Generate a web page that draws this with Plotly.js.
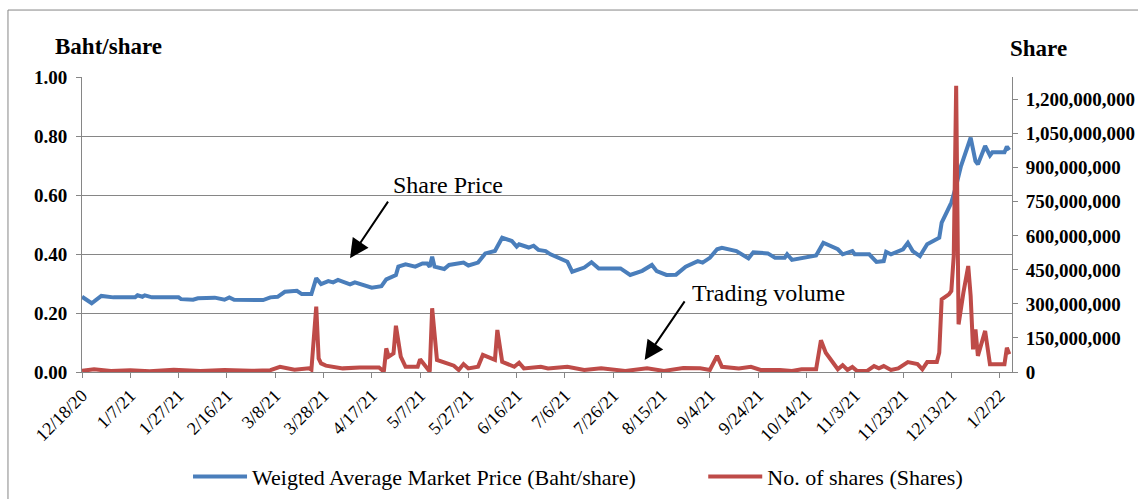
<!DOCTYPE html>
<html>
<head>
<meta charset="utf-8">
<script src="https://cdn.plot.ly/plotly-3.0.1.min.js"></script>
<style>
  body { margin: 0; background: #fff; }
  #chart { width: 1138px; height: 499px; }
</style>
</head>
<body>
<div id="chart"></div>
<script>
// weighted average market price (Baht/share)
var priceDates = [
  '2020-12-18','2020-12-22','2020-12-26','2020-12-31',
  '2021-01-09','2021-01-10','2021-01-12','2021-01-13','2021-01-16','2021-01-27','2021-01-28',
  '2021-02-02','2021-02-04','2021-02-11','2021-02-15','2021-02-17','2021-02-19',
  '2021-03-03','2021-03-06','2021-03-09','2021-03-12','2021-03-17','2021-03-19','2021-03-23','2021-03-25','2021-03-27','2021-03-30',
  '2021-04-01','2021-04-03','2021-04-05','2021-04-08','2021-04-10','2021-04-13','2021-04-17','2021-04-21','2021-04-23','2021-04-27','2021-04-28',
  '2021-05-01','2021-05-05','2021-05-08','2021-05-10','2021-05-11','2021-05-12','2021-05-13','2021-05-17','2021-05-19','2021-05-25','2021-05-27','2021-05-31',
  '2021-06-03','2021-06-07','2021-06-10','2021-06-14','2021-06-16','2021-06-17','2021-06-21','2021-06-23','2021-06-25','2021-06-28','2021-06-30',
  '2021-07-01','2021-07-07','2021-07-09','2021-07-14','2021-07-17','2021-07-20','2021-07-29',
  '2021-08-02','2021-08-07','2021-08-11','2021-08-13','2021-08-17','2021-08-21','2021-08-25','2021-08-30',
  '2021-09-01','2021-09-04','2021-09-07','2021-09-09','2021-09-15','2021-09-20','2021-09-22','2021-09-28',
  '2021-10-01','2021-10-05','2021-10-06','2021-10-08','2021-10-12','2021-10-18','2021-10-21','2021-10-27','2021-10-29',
  '2021-11-02','2021-11-03','2021-11-09','2021-11-12','2021-11-15','2021-11-16','2021-11-18','2021-11-23','2021-11-25','2021-11-27','2021-11-30',
  '2021-12-03','2021-12-08','2021-12-09','2021-12-13','2021-12-15','2021-12-17','2021-12-21','2021-12-23','2021-12-24','2021-12-27','2021-12-29','2021-12-30',
  '2022-01-04','2022-01-05','2022-01-06'
];
var priceValues = [
  0.255,0.233,0.258,0.253,
  0.253,0.260,0.255,0.260,0.253,0.253,0.247,
  0.245,0.250,0.252,0.245,0.253,0.245,
  0.244,0.253,0.255,0.272,0.275,0.264,0.264,0.318,0.298,0.308,
  0.304,0.312,0.305,0.297,0.304,0.295,0.286,0.291,0.314,0.329,0.357,
  0.365,0.357,0.368,0.368,0.357,0.391,0.357,0.349,0.363,0.371,0.361,0.371,
  0.402,0.410,0.455,0.444,0.425,0.433,0.422,0.428,0.414,0.410,0.399,
  0.395,0.374,0.340,0.354,0.372,0.351,0.351,
  0.329,0.343,0.363,0.342,0.329,0.330,0.357,0.376,
  0.371,0.387,0.416,0.421,0.410,0.385,0.406,0.402,
  0.387,0.387,0.399,0.380,0.387,0.395,0.438,0.416,0.399,
  0.410,0.399,0.399,0.373,0.376,0.407,0.399,0.416,0.438,0.410,0.393,
  0.433,0.455,0.506,0.574,0.631,0.698,0.794,0.715,0.704,0.766,0.734,0.745,
  0.745,0.764,0.752
];

// number of shares traded
var volDates = [
  '2020-12-18','2020-12-23','2020-12-30',
  '2021-01-07','2021-01-15','2021-01-25','2021-02-05','2021-02-15','2021-02-26',
  '2021-03-06','2021-03-10','2021-03-16','2021-03-22','2021-03-23','2021-03-25','2021-03-26','2021-03-27','2021-03-29',
  '2021-04-05','2021-04-12','2021-04-20','2021-04-22','2021-04-23','2021-04-24','2021-04-26','2021-04-27','2021-04-29',
  '2021-05-01','2021-05-06','2021-05-07','2021-05-11','2021-05-12','2021-05-14','2021-05-18','2021-05-21','2021-05-23','2021-05-25','2021-05-27','2021-05-31',
  '2021-06-02','2021-06-05','2021-06-07','2021-06-08','2021-06-10','2021-06-15','2021-06-17','2021-06-19','2021-06-26','2021-06-29',
  '2021-07-07','2021-07-14','2021-07-21','2021-07-31',
  '2021-08-09','2021-08-16','2021-08-24','2021-08-31',
  '2021-09-04','2021-09-07','2021-09-09','2021-09-16','2021-09-21','2021-09-25',
  '2021-10-03','2021-10-08','2021-10-12','2021-10-18','2021-10-20','2021-10-22','2021-10-27','2021-10-29','2021-10-31',
  '2021-11-02','2021-11-04','2021-11-08','2021-11-11','2021-11-13','2021-11-15','2021-11-18','2021-11-21','2021-11-25','2021-11-29',
  '2021-12-01','2021-12-03','2021-12-07','2021-12-08','2021-12-09','2021-12-12','2021-12-13','2021-12-14','2021-12-15','2021-12-16',
  '2021-12-18','2021-12-20','2021-12-21','2021-12-22','2021-12-23','2021-12-24','2021-12-27','2021-12-29',
  '2022-01-04','2022-01-05','2022-01-06'
];
var volValues = [
  5e6,12e6,4e6,
  8e6,3e6,10e6,4e6,9e6,5e6,
  8e6,23e6,10e6,16e6,10e6,288e6,60e6,38e6,28e6,
  16e6,20e6,20e6,2e6,104e6,68e6,82e6,204e6,68e6,
  23e6,23e6,56e6,2e6,281e6,53e6,41e6,28e6,9e6,35e6,16e6,23e6,
  75e6,60e6,53e6,185e6,45e6,23e6,41e6,16e6,23e6,16e6,
  23e6,9e6,16e6,5e6,
  16e6,5e6,18e6,16e6,
  9e6,71e6,23e6,16e6,23e6,9e6,
  9e6,4e6,12e6,12e6,140e6,85e6,12e6,30e6,9e6,
  22e6,4e6,4e6,26e6,16e6,26e6,9e6,16e6,44e6,35e6,
  12e6,44e6,44e6,85e6,320e6,342e6,357e6,511e6,1261e6,210e6,
  350e6,467e6,335e6,100e6,188e6,71e6,181e6,34e6,
  34e6,107e6,78e6
];

var priceName = 'Weigted Average Market Price (Baht/share)';
var volName = 'No. of shares (Shares)';

var serif = 'Liberation Serif, Times New Roman, serif';
var grey = '#868686';

var trace1 = {
  x: priceDates,
  y: priceValues,
  name: priceName,
  legend: 'legend',
  type: 'scatter',
  mode: 'lines',
  line: {color: '#4A7EBB', width: 4}
};

var trace2 = {
  x: volDates,
  y: volValues,
  name: volName,
  legend: 'legend2',
  yaxis: 'y2',
  type: 'scatter',
  mode: 'lines',
  line: {color: '#BE4B48', width: 4}
};

var layout = {
  width: 1138,
  height: 499,
  autosize: false,
  paper_bgcolor: '#fff',
  plot_bgcolor: '#fff',
  margin: {l: 82, r: 126, t: 77, b: 127, autoexpand: false},
  font: {family: serif, color: '#000'},
  showlegend: true,
  legend: {
    orientation: 'h',
    x: 0.114, xanchor: 'left',
    y: -0.355, yanchor: 'middle',
    font: {family: serif, size: 22},
    itemwidth: 54
  },
  legend2: {
    orientation: 'h',
    x: 0.668, xanchor: 'left',
    y: -0.355, yanchor: 'middle',
    font: {family: serif, size: 22},
    itemwidth: 54
  },
  xaxis: {
    type: 'date',
    range: ['2020-12-18', '2022-01-07 03:00'],
    tick0: '2020-12-18',
    dtick: 20 * 86400000,
    tickformat: '%-m/%-d/%y',
    tickangle: -45,
    ticks: 'outside',
    ticklen: 5,
    tickcolor: grey,
    showline: true,
    linecolor: grey,
    showgrid: false,
    zeroline: false,
    tickfont: {family: serif, size: 18}
  },
  yaxis: {
    range: [0, 1],
    dtick: 0.2,
    tickformat: '.2f',
    ticks: 'outside',
    ticklen: 5,
    tickcolor: grey,
    ticklabelstandoff: 5,
    showline: true,
    linecolor: grey,
    gridcolor: grey,
    zeroline: false,
    tickfont: {family: serif, size: 19, weight: 'bold'}
  },
  yaxis2: {
    overlaying: 'y',
    side: 'right',
    range: [0, 1.3e9],
    dtick: 150e6,
    tickformat: ',',
    ticks: 'outside',
    ticklen: 5,
    tickcolor: grey,
    ticklabelstandoff: 4,
    showline: true,
    linecolor: grey,
    showgrid: false,
    zeroline: false,
    tickfont: {family: serif, size: 19, weight: 'bold'}
  },
  shapes: [
    // outer chart frame, running off the right and bottom edges
    {
      type: 'rect', xref: 'paper', yref: 'paper',
      x0: -0.0796, x1: 1.14, y0: -0.55, y1: 1.227,
      line: {color: grey, width: 1}
    }
  ],
  annotations: [
    {
      xref: 'paper', yref: 'paper', x: 0.028, y: 1.105,
      xanchor: 'center', yanchor: 'middle',
      text: 'Baht/share', showarrow: false,
      font: {family: serif, size: 23, weight: 'bold'}
    },
    {
      xref: 'paper', yref: 'paper', x: 1.029, y: 1.098,
      xanchor: 'center', yanchor: 'middle',
      text: 'Share', showarrow: false,
      font: {family: serif, size: 23, weight: 'bold'}
    },
    {
      xref: 'paper', yref: 'paper', x: 0.3935, y: 0.634,
      xanchor: 'center', yanchor: 'middle',
      text: 'Share Price', showarrow: false,
      font: {family: serif, size: 24}
    },
    {
      xref: 'paper', yref: 'paper', x: 0.7387, y: 0.268,
      xanchor: 'center', yanchor: 'middle',
      text: 'Trading volume', showarrow: false,
      font: {family: serif, size: 24}
    },
    {
      x: '2021-04-08', y: 0.386, xref: 'x', yref: 'y',
      text: '', showarrow: true, ax: 39, ay: -58,
      arrowhead: 2, arrowsize: 1.9, arrowwidth: 2, arrowcolor: '#000'
    },
    {
      x: '2021-08-08', y: 0.041, xref: 'x', yref: 'y',
      text: '', showarrow: true, ax: 41, ay: -60,
      arrowhead: 2, arrowsize: 1.9, arrowwidth: 2, arrowcolor: '#000'
    }
  ]
};

Plotly.newPlot('chart', [trace1, trace2], layout, {displayModeBar: false});
</script>
</body>
</html>
